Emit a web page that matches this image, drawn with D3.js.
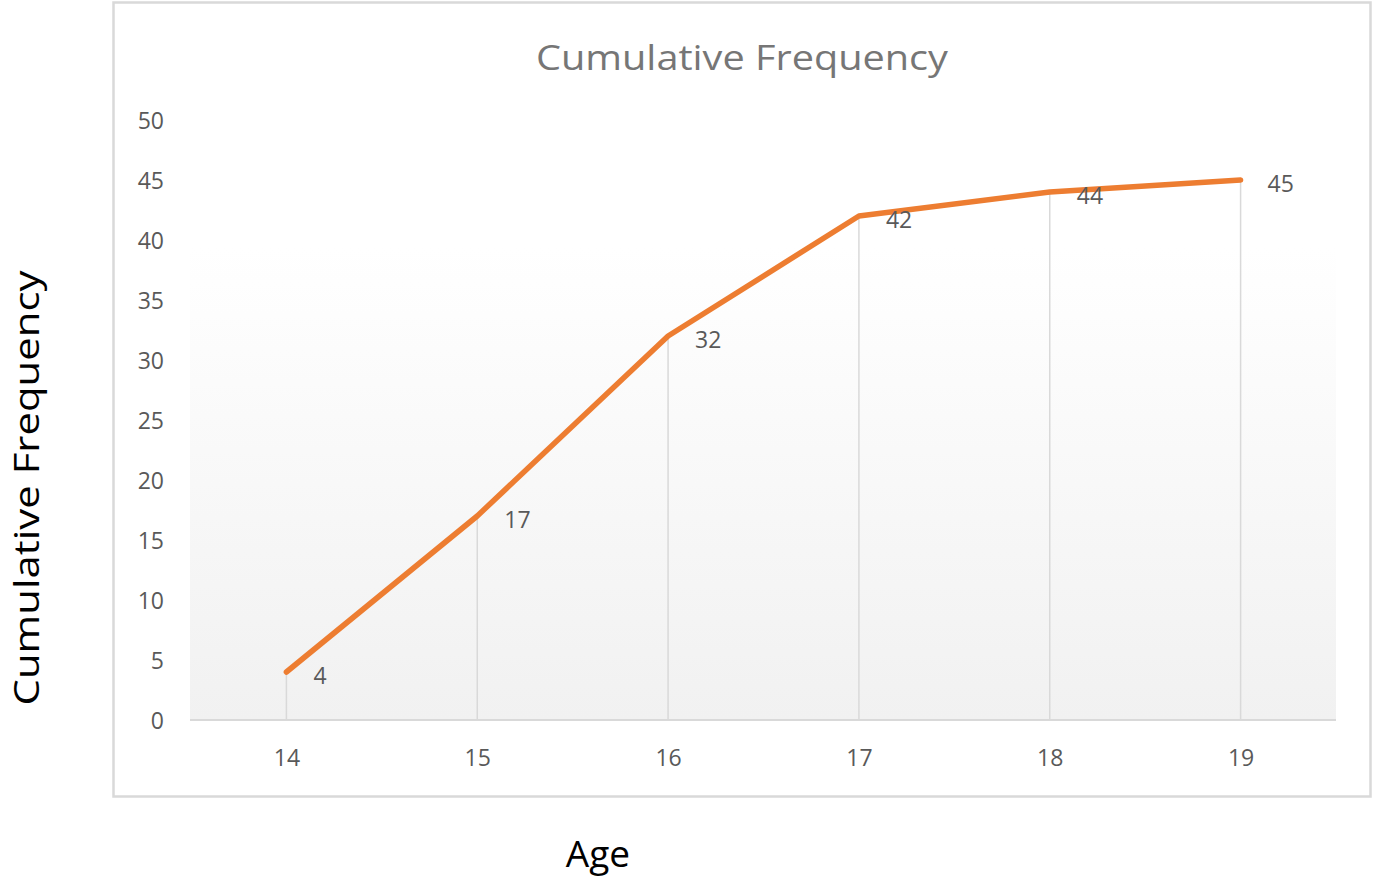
<!DOCTYPE html>
<html>
<head>
<meta charset="utf-8">
<script src="https://cdn.jsdelivr.net/npm/d3@7/dist/d3.min.js"></script>
<style>
  html, body { margin: 0; padding: 0; background: #ffffff; }
  svg { display: block; }
</style>
</head>
<body>
<svg id="chart" width="1373" height="876"></svg>
<script>
const categories = ["14", "15", "16", "17", "18", "19"];
const values = [4, 17, 32, 42, 44, 45];
const yTicks = [0, 5, 10, 15, 20, 25, 30, 35, 40, 45, 50];
const chartTitle = "Cumulative  Frequency";
const xTitle = "Age";
const yTitle = "Cumulative Frequency";

const svg = d3.select("#chart");
const plot = { left: 191, right: 1336, top: 120, bottom: 720 };

const x = d3.scalePoint().domain(categories).range([plot.left, plot.right]).padding(0.5);
const y = d3.scaleLinear().domain([0, 50]).range([plot.bottom, plot.top]);

const defs = svg.append("defs");
const grad = defs.append("linearGradient").attr("id", "bg").attr("x1", 0).attr("y1", 0).attr("x2", 0).attr("y2", 1);
grad.append("stop").attr("offset", "0%").attr("stop-color", "#ffffff");
grad.append("stop").attr("offset", "12%").attr("stop-color", "#ffffff");
grad.append("stop").attr("offset", "100%").attr("stop-color", "#f1f1f1");

// chart frame
svg.append("rect").attr("x", 113.5).attr("y", 2.5).attr("width", 1257).attr("height", 794)
  .attr("fill", "#ffffff").attr("stroke", "#d9d9d9").attr("stroke-width", 2.5);

// plot area background
svg.append("rect").attr("x", plot.left - 1).attr("y", y(45) + 3)
  .attr("width", plot.right - plot.left + 1).attr("height", plot.bottom - y(45) - 3)
  .attr("fill", "url(#bg)");

// title
svg.append("text").attr("x", 742).attr("y", 57).attr("text-anchor", "middle")
  .attr("dominant-baseline", "central")
  .attr("font-family", "Open Sans, Liberation Sans, sans-serif").attr("font-size", 34)
  .attr("fill", "#767676").attr("textLength", 412).attr("lengthAdjust", "spacingAndGlyphs")
  .text(chartTitle);

// y axis (labels only)
const yAxis = d3.axisLeft(y).tickValues(yTicks).tickSize(0).tickPadding(0);
const gy = svg.append("g").attr("transform", `translate(164,0)`).call(yAxis);
gy.select(".domain").remove();
gy.selectAll("text").attr("font-family", "Open Sans, Liberation Sans, sans-serif")
  .attr("font-size", 23).attr("fill", "#595959").attr("dy", "0.35em");

// x axis
const xAxis = d3.axisBottom(x).tickSize(0).tickPadding(0);
const gx = svg.append("g").attr("transform", `translate(0,${plot.bottom})`).call(xAxis);
gx.select(".domain").remove();
gx.selectAll("text").attr("font-family", "Open Sans, Liberation Sans, sans-serif")
  .attr("font-size", 23).attr("fill", "#595959").attr("y", 38).attr("dy", "0.35em");

// drop lines
svg.append("g").selectAll("line").data(values).join("line")
  .attr("x1", (d, i) => x(categories[i])).attr("x2", (d, i) => x(categories[i]))
  .attr("y1", d => y(d)).attr("y2", y(0))
  .attr("stroke", "#d9d9d9").attr("stroke-width", 1.5);

// baseline
svg.append("line").attr("x1", plot.left - 1).attr("x2", plot.right)
  .attr("y1", y(0)).attr("y2", y(0)).attr("stroke", "#d9d9d9").attr("stroke-width", 2);

// line
const line = d3.line().x((d, i) => x(categories[i])).y(d => y(d));
svg.append("path").datum(values).attr("d", line)
  .attr("fill", "none").attr("stroke", "#ED7D31").attr("stroke-width", 5.5)
  .attr("stroke-linejoin", "round").attr("stroke-linecap", "round");

// data labels
svg.append("g").selectAll("text").data(values).join("text")
  .attr("x", (d, i) => x(categories[i]) + 27).attr("y", d => y(d) + 3)
  .attr("dominant-baseline", "central")
  .attr("font-family", "Open Sans, Liberation Sans, sans-serif").attr("font-size", 23)
  .attr("fill", "#595959").text(d => d);

// axis titles
svg.append("text").attr("x", 598).attr("y", 852).attr("text-anchor", "middle")
  .attr("dominant-baseline", "central")
  .attr("font-family", "Open Sans, Liberation Sans, sans-serif").attr("font-size", 37)
  .attr("fill", "#000000").text(xTitle);

svg.append("text").attr("transform", "translate(25,488) rotate(-90)")
  .attr("text-anchor", "middle").attr("dominant-baseline", "central")
  .attr("font-family", "Open Sans, Liberation Sans, sans-serif").attr("font-size", 35)
  .attr("fill", "#000000").attr("textLength", 435).attr("lengthAdjust", "spacingAndGlyphs")
  .text(yTitle);
</script>
</body>
</html>
